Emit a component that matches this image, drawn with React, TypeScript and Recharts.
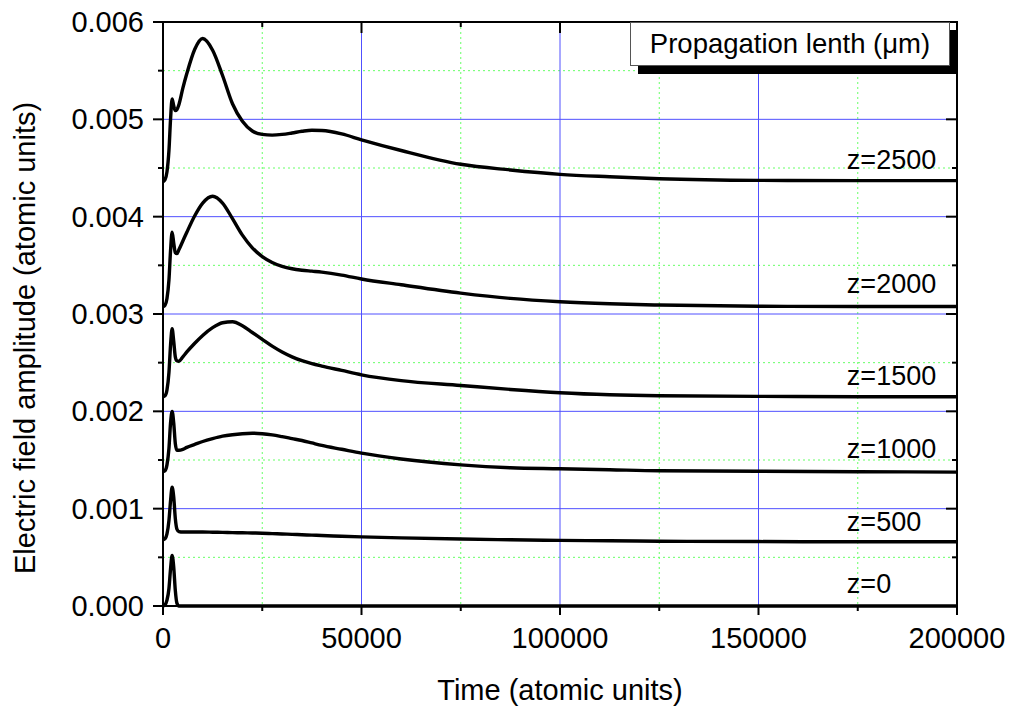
import React from "react"
import { CartesianGrid, Label, Line, LineChart, ReferenceDot, XAxis, YAxis } from "recharts"

// time axis (atomic units), shared by all curves
const time = [0, 500, 1000, 1500, 1900, 2300, 2700, 3100, 3500, 4000, 5000, 6000, 8000, 10000, 12500, 15000, 17500, 20000, 22500, 25000, 27500, 30000, 32500, 35000, 37500, 40000, 45000, 50000, 60000, 75000, 87500, 100000, 112500, 125000, 150000, 175000, 200000]

const z0 = [0, 0.00001, 0.00006, 0.00018, 0.00038, 0.00052, 0.0004, 0.00016, 0.00003, 0, 0, 0, 0, 0, 0, 0, 0, 0, 0, 0, 0, 0, 0, 0, 0, 0, 0, 0, 0, 0, 0, 0, 0, 0, 0, 0, 0]
const z500 = [0.00068, 0.00069, 0.00074, 0.00088, 0.00108, 0.00122, 0.00112, 0.0009, 0.00079, 0.000765, 0.00076, 0.00076, 0.00076, 0.00076, 0.000758, 0.000756, 0.000754, 0.000752, 0.00075, 0.000748, 0.000744, 0.00074, 0.000736, 0.000732, 0.000728, 0.000724, 0.000717, 0.00071, 0.0007, 0.000688, 0.00068, 0.000674, 0.00067, 0.000666, 0.000662, 0.00066, 0.00066]
const z1000 = [0.00138, 0.00139, 0.00145, 0.00162, 0.00188, 0.002, 0.00188, 0.00167, 0.0016, 0.0016, 0.00161, 0.00163, 0.00166, 0.00169, 0.00172, 0.001745, 0.00176, 0.00177, 0.001775, 0.00177, 0.001758, 0.00174, 0.00172, 0.0017, 0.001675, 0.00165, 0.00161, 0.00157, 0.00151, 0.00145, 0.00142, 0.00141, 0.0014, 0.00139, 0.001385, 0.00138, 0.001375]
const z1500 = [0.00215, 0.00216, 0.00222, 0.0024, 0.00268, 0.00285, 0.00272, 0.00256, 0.00252, 0.002515, 0.00256, 0.00261, 0.0027, 0.00278, 0.00286, 0.00291, 0.00292, 0.00288, 0.00281, 0.00274, 0.00267, 0.00261, 0.00256, 0.00252, 0.00249, 0.002465, 0.00242, 0.002375, 0.002315, 0.002266, 0.002225, 0.002191, 0.00217, 0.00216, 0.002154, 0.00215, 0.00215]
const z2000 = [0.003075, 0.00309, 0.00316, 0.00335, 0.00365, 0.00384, 0.00373, 0.00363, 0.00362, 0.00366, 0.00375, 0.00384, 0.00401, 0.00414, 0.00421, 0.00414, 0.00398, 0.00381, 0.00368, 0.00359, 0.00353, 0.00349, 0.003465, 0.00345, 0.00344, 0.00343, 0.0034, 0.00336, 0.0033, 0.003215, 0.00316, 0.003126, 0.003105, 0.003092, 0.00308, 0.003077, 0.003077]
const z2500 = [0.00436, 0.00438, 0.00446, 0.00468, 0.005, 0.00521, 0.00514, 0.00509, 0.0051, 0.00515, 0.00532, 0.00547, 0.00572, 0.00583, 0.00571, 0.00545, 0.00516, 0.00498, 0.00488, 0.004845, 0.004838, 0.004845, 0.00486, 0.004877, 0.004888, 0.004885, 0.00485, 0.00479, 0.00468, 0.004538, 0.00448, 0.004435, 0.00441, 0.00439, 0.004373, 0.00437, 0.00437]

const seriesKeys = ["z0", "z500", "z1000", "z1500", "z2000", "z2500"]
const seriesValues = [z0, z500, z1000, z1500, z2000, z2500]

// curve labels on the right
const labelTexts = ["z=0", "z=500", "z=1000", "z=1500", "z=2000", "z=2500"]
const labelY = [0.000236, 0.000873, 0.001623, 0.002373, 0.003319, 0.004593]
const labelX = 171000

const xTicks = [0, 25000, 50000, 75000, 100000, 125000, 150000, 175000, 200000]
const yTicks = [0, 0.0005, 0.001, 0.0015, 0.002, 0.0025, 0.003, 0.0035, 0.004, 0.0045, 0.005, 0.0055, 0.006]
const xMajorGrid = [50000, 100000, 150000]
const xMinorGrid = [25000, 75000, 125000, 175000]
const yMajorGrid = [0.001, 0.002, 0.003, 0.004, 0.005]
const yMinorGrid = [0.0005, 0.0015, 0.0025, 0.0035, 0.0045, 0.0055]

const X_MAX = 200000
const Y_MAX = 0.006

const W = 1009
const H = 708
const PLOT = { left: 163, top: 22, width: 794, height: 584 }

const data = time.map((t, i) => {
    const row: any = { t }
    seriesKeys.forEach((k, j) => { row[k] = seriesValues[j][i] })
    return row
})

const FONT = "'Liberation Sans', Arial, sans-serif"

const isMajorX = (v: number) => v % 50000 === 0
const isMajorY = (v: number) => Math.abs(v * 1000 - Math.round(v * 1000)) < 1e-6

// bottom tick + mirrored inward tick on the top frame; the last one also draws the right border
const BottomTick = ({ x, y, payload }: any) => {
    const major = isMajorX(payload.value)
    const top = y - PLOT.height
    return (
        <g>
            <line x1={x} x2={x} y1={y} y2={y + (major ? 9 : 5)} stroke="#000" strokeWidth={2} />
            <line x1={x} x2={x} y1={top} y2={top + (major ? 11 : 5)} stroke="#000" strokeWidth={2} />
            {payload.value === X_MAX && <line x1={x} x2={x} y1={top - 1} y2={y} stroke="#000" strokeWidth={2} />}
            {major && <text x={x} y={y + 32} textAnchor="middle" dominantBaseline="central" fontSize={29} fontFamily={FONT} fill="#000">{payload.value}</text>}
        </g>
    )
}

// left tick + mirrored inward tick on the right frame; the top one also draws the top border
const LeftTick = ({ x, y, payload }: any) => {
    const major = isMajorY(payload.value)
    const right = x + PLOT.width
    return (
        <g>
            <line x1={x - (major ? 10 : 5)} x2={x} y1={y} y2={y} stroke="#000" strokeWidth={2} />
            <line x1={right - (major ? 11 : 5)} x2={right} y1={y} y2={y} stroke="#000" strokeWidth={2} />
            {payload.value === Y_MAX && <line x1={x} x2={right + 1} y1={y} y2={y} stroke="#000" strokeWidth={2} />}
            {major && <text x={x - 19} y={y} textAnchor="end" dominantBaseline="central" fontSize={29} fontFamily={FONT} fill="#000">{payload.value.toFixed(3)}</text>}
        </g>
    )
}

const YTitle = ({ viewBox }: any) => {
    const cx = viewBox.x + 25
    const cy = viewBox.y + viewBox.height / 2 + 24
    return (
        <text x={cx} y={cy} transform={`rotate(-90 ${cx} ${cy})`} textAnchor="middle" dominantBaseline="central" fontSize={29} fontFamily={FONT} fill="#000">
            Electric field amplitude (atomic units)
        </text>
    )
}

const XTitle = ({ viewBox }: any) => (
    <text x={viewBox.x + viewBox.width / 2} y={viewBox.y + 84} textAnchor="middle" dominantBaseline="central" fontSize={29} fontFamily={FONT} fill="#000">
        Time (atomic units)
    </text>
)

const App = () => {
    return (
        <div style={{ position: "absolute", left: 0, top: 0, width: W, height: H, background: "#fff" }}>
            <LineChart width={W} height={H} data={data}
                margin={{ top: PLOT.top, right: W - PLOT.left - PLOT.width, left: 0, bottom: 0 }}>
                <CartesianGrid horizontalValues={yMinorGrid} verticalValues={xMinorGrid} stroke="#66ff66" strokeDasharray="2 3" strokeWidth={1} />
                <CartesianGrid horizontalValues={yMajorGrid} verticalValues={xMajorGrid} stroke="#5050ff" strokeWidth={1} />
                <XAxis dataKey="t" type="number" domain={[0, X_MAX]} ticks={xTicks} interval={0} height={H - PLOT.top - PLOT.height}
                    tickSize={0} tickMargin={0} tick={<BottomTick />} axisLine={{ stroke: "#000", strokeWidth: 2 }}>
                    <Label content={<XTitle />} />
                </XAxis>
                <YAxis type="number" domain={[0, Y_MAX]} ticks={yTicks} interval={0} width={PLOT.left}
                    tickSize={0} tickMargin={0} tick={<LeftTick />} axisLine={{ stroke: "#000", strokeWidth: 2 }}>
                    <Label content={<YTitle />} />
                </YAxis>
                {seriesKeys.map((k) => (
                    <Line key={k} dataKey={k} type="monotone" stroke="#000" strokeWidth={3.4} dot={false} isAnimationActive={false} />
                ))}
                {labelTexts.map((txt, i) => (
                    <ReferenceDot key={txt} x={labelX} y={labelY[i]} r={0} fill="none" stroke="none"
                        label={{ value: txt, position: "right", offset: 5, fontSize: 27, fontFamily: FONT, fill: "#000" }} />
                ))}
            </LineChart>
            <div style={{ position: "absolute", left: 638, top: 30, width: 319, height: 44, background: "#000" }} />
            <div style={{
                position: "absolute", left: 630, top: 22, width: 318, height: 42, background: "#fff",
                border: "1px solid #555", fontFamily: FONT, fontSize: 27.5, color: "#000",
                display: "flex", alignItems: "center", justifyContent: "center"
            }}>
                Propagation lenth (μm)
            </div>
        </div>
    )
}

export default App
